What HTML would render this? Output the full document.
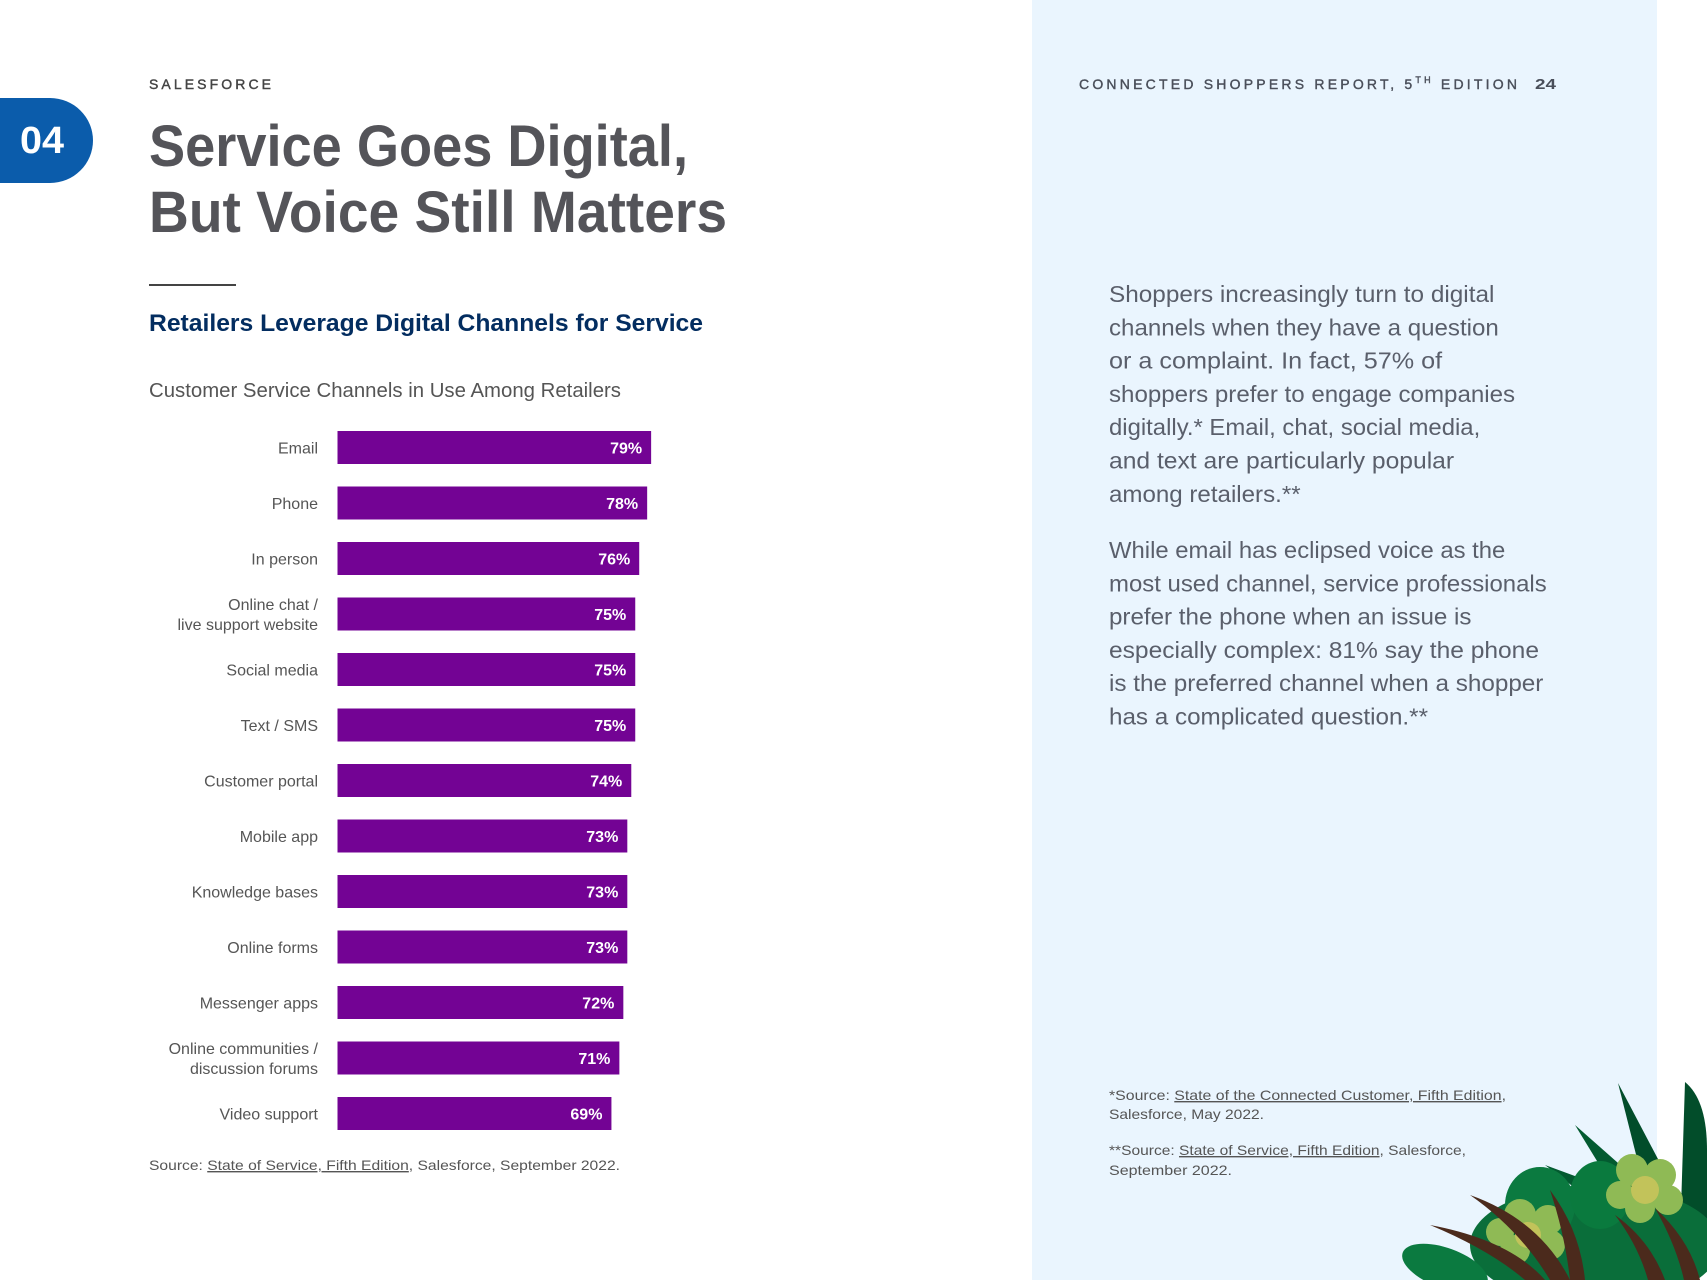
<!DOCTYPE html>
<html><head><meta charset="utf-8"><style>
html,body{margin:0;padding:0;background:#fff;}
svg{display:block;font-family:"Liberation Sans",sans-serif;}
</style></head><body>
<svg width="1707" height="1280" viewBox="0 0 1707 1280">
<rect x="1032" y="0" width="625" height="1280" fill="#eaf5fe"/>
<path d="M0 98 H50 A43 42.5 0 0 1 50 183 H0 Z" fill="#0b5cab"/>
<text x="20" y="153" font-size="38" font-weight="bold" fill="#fff" textLength="44" lengthAdjust="spacingAndGlyphs">04</text>
<text x="149" y="89" font-size="14" fill="#444" stroke="#444" stroke-width="0.4" textLength="122" lengthAdjust="spacing">SALESFORCE</text>
<text x="149" y="166" font-size="58" font-weight="bold" fill="#545459" textLength="539" lengthAdjust="spacingAndGlyphs">Service Goes Digital,</text>
<text x="149" y="232" font-size="58" font-weight="bold" fill="#545459" textLength="578" lengthAdjust="spacingAndGlyphs">But Voice Still Matters</text>
<rect x="149" y="284" width="87" height="2" fill="#444"/>
<text x="149" y="331" font-size="24" font-weight="bold" fill="#032d60" textLength="554" lengthAdjust="spacingAndGlyphs">Retailers Leverage Digital Channels for Service</text>
<text x="149" y="397" font-size="20" fill="#555" textLength="472" lengthAdjust="spacingAndGlyphs">Customer Service Channels in Use Among Retailers</text>
<g id="chart"></g>
<text x="149" y="1170" font-size="14" fill="#555" textLength="471" lengthAdjust="spacingAndGlyphs">Source: <tspan text-decoration="underline">State of Service, Fifth Edition</tspan>, Salesforce, September 2022.</text>
<text x="1079" y="89" font-size="14" fill="#4a4f5a" stroke="#4a4f5a" stroke-width="0.4" textLength="438" lengthAdjust="spacing">CONNECTED SHOPPERS REPORT, 5<tspan font-size="9" dy="-6">TH</tspan><tspan dy="6"> EDITION</tspan></text>
<text x="1535" y="89" font-size="15" font-weight="bold" fill="#4a4f5a" textLength="21" lengthAdjust="spacingAndGlyphs">24</text>
<g id="paras" font-size="23" fill="#5a5f6b"></g>
<g font-size="14" fill="#555">
<text x="1109" y="1100" textLength="397" lengthAdjust="spacingAndGlyphs">*Source: <tspan text-decoration="underline">State of the Connected Customer, Fifth Edition</tspan>,</text>
<text x="1109" y="1119" textLength="155" lengthAdjust="spacingAndGlyphs">Salesforce, May 2022.</text>
<text x="1109" y="1155" textLength="357" lengthAdjust="spacingAndGlyphs">**Source: <tspan text-decoration="underline">State of Service, Fifth Edition</tspan>, Salesforce,</text>
<text x="1109" y="1175" textLength="123" lengthAdjust="spacingAndGlyphs">September 2022.</text>
</g>
<g>
<path d="M1618 1083 L1690 1220 L1655 1230 Z" fill="#024d2a"/>
<path d="M1685 1082 Q1707 1100 1707 1150 L1707 1240 L1680 1240 Z" fill="#024d2a"/>
<path d="M1575 1125 L1660 1200 L1630 1215 Z" fill="#035a30"/>
<path d="M1545 1165 L1640 1200 L1610 1215 Z" fill="#035a30"/>
<ellipse cx="1595" cy="1245" rx="125" ry="60" fill="#0a6e3a"/>
<ellipse cx="1540" cy="1205" rx="35" ry="38" fill="#0b7a40"/>
<ellipse cx="1600" cy="1195" rx="30" ry="34" fill="#0a7a3e"/>
<ellipse cx="1445" cy="1268" rx="45" ry="20" fill="#0b7a40" transform="rotate(20 1445 1268)"/>
<g fill="#8fba55"><circle cx="1632" cy="1170" r="16"/><circle cx="1660" cy="1175" r="16"/><circle cx="1668" cy="1200" r="15"/><circle cx="1640" cy="1208" r="15"/><circle cx="1620" cy="1195" r="14"/></g>
<circle cx="1645" cy="1190" r="14" fill="#c2c35a"/>
<g fill="#8fba55"><circle cx="1520" cy="1215" r="16"/><circle cx="1548" cy="1220" r="15"/><circle cx="1550" cy="1245" r="15"/><circle cx="1515" cy="1250" r="15"/><circle cx="1500" cy="1232" r="14"/></g>
<circle cx="1528" cy="1235" r="13" fill="#c2c35a"/>
<path d="M1430 1225 Q1510 1240 1545 1280 L1525 1280 Q1490 1250 1430 1225 Z" fill="#4b2a1c"/>
<path d="M1470 1195 Q1540 1220 1570 1280 L1550 1280 Q1520 1230 1470 1195 Z" fill="#4b2a1c"/>
<path d="M1550 1190 Q1580 1230 1585 1280 L1570 1280 Q1565 1235 1550 1190 Z" fill="#4b2a1c"/>
<path d="M1615 1215 Q1650 1240 1665 1280 L1648 1280 Q1638 1245 1615 1215 Z" fill="#4b2a1c"/>
<path d="M1655 1208 Q1690 1240 1700 1280 L1684 1280 Q1676 1245 1655 1208 Z" fill="#4b2a1c"/>
</g>
</svg>
<script>
const categories = [["Email"],["Phone"],["In person"],["Online chat /","live support website"],["Social media"],["Text / SMS"],["Customer portal"],["Mobile app"],["Knowledge bases"],["Online forms"],["Messenger apps"],["Online communities /","discussion forums"],["Video support"]];
const values = [79,78,76,75,75,75,74,73,73,73,72,71,69];
const valueLabels = ["79%","78%","76%","75%","75%","75%","74%","73%","73%","73%","72%","71%","69%"];
const NS = "http://www.w3.org/2000/svg";
const x0 = 337.5, pxPer = 3.97, top0 = 431, pitch = 55.5, bh = 33;
const xScale = v => x0 + v * pxPer;
const yScale = i => top0 + i * pitch;
const g = document.getElementById('chart');
function mk(tag, attrs){const e=document.createElementNS(NS,tag);for(const k in attrs)e.setAttribute(k,attrs[k]);return e;}
values.forEach((v,i)=>{
  const y = yScale(i);
  const r = mk('rect',{x:x0,y:y,width:xScale(v)-x0,height:bh,fill:'#730394'});
  
  
  g.appendChild(r);
  const t = mk('text',{x:xScale(v)-9,y:y+bh/2+6,'text-anchor':'end','font-size':'16','font-weight':'bold',fill:'#fff'});
  t.textContent = valueLabels[i];
  
  
  g.appendChild(t);
  const lines = categories[i];
  lines.forEach((ln,j)=>{
    const cy = y + bh/2 + 6 + (lines.length===2 ? (j===0?-10:10) : 0);
    const l = mk('text',{x:318,y:cy,'text-anchor':'end','font-size':'16',fill:'#555'});
    l.textContent = ln;
    
    
    g.appendChild(l);
  });
});
const p1 = [["Shoppers increasingly turn to digital",1373],["channels when they have a question",1377],["or a complaint. In fact, 57% of",1325],["shoppers prefer to engage companies",1392],["digitally.* Email, chat, social media,",1360],["and text are particularly popular",1336],["among retailers.**",1195]];
const p2 = [["While email has eclipsed voice as the",1383],["most used channel, service professionals",1421],["prefer the phone when an issue is",1352],["especially complex: 81% say the phone",1414],["is the preferred channel when a shopper",1418],["has a complicated question.**",1312]];
const pg = document.getElementById('paras');
function para(lines, y0){
  lines.forEach((ln,i)=>{
    const t = mk('text',{x:1109,y:y0+i*33.3,textLength:((ln[1]-1019)*1.0887).toFixed(1),lengthAdjust:'spacingAndGlyphs'});
    t.textContent = ln[0];
    
    
    pg.appendChild(t);
  });
}
para(p1, 302);
para(p2, 558);
</script>
</body></html>
